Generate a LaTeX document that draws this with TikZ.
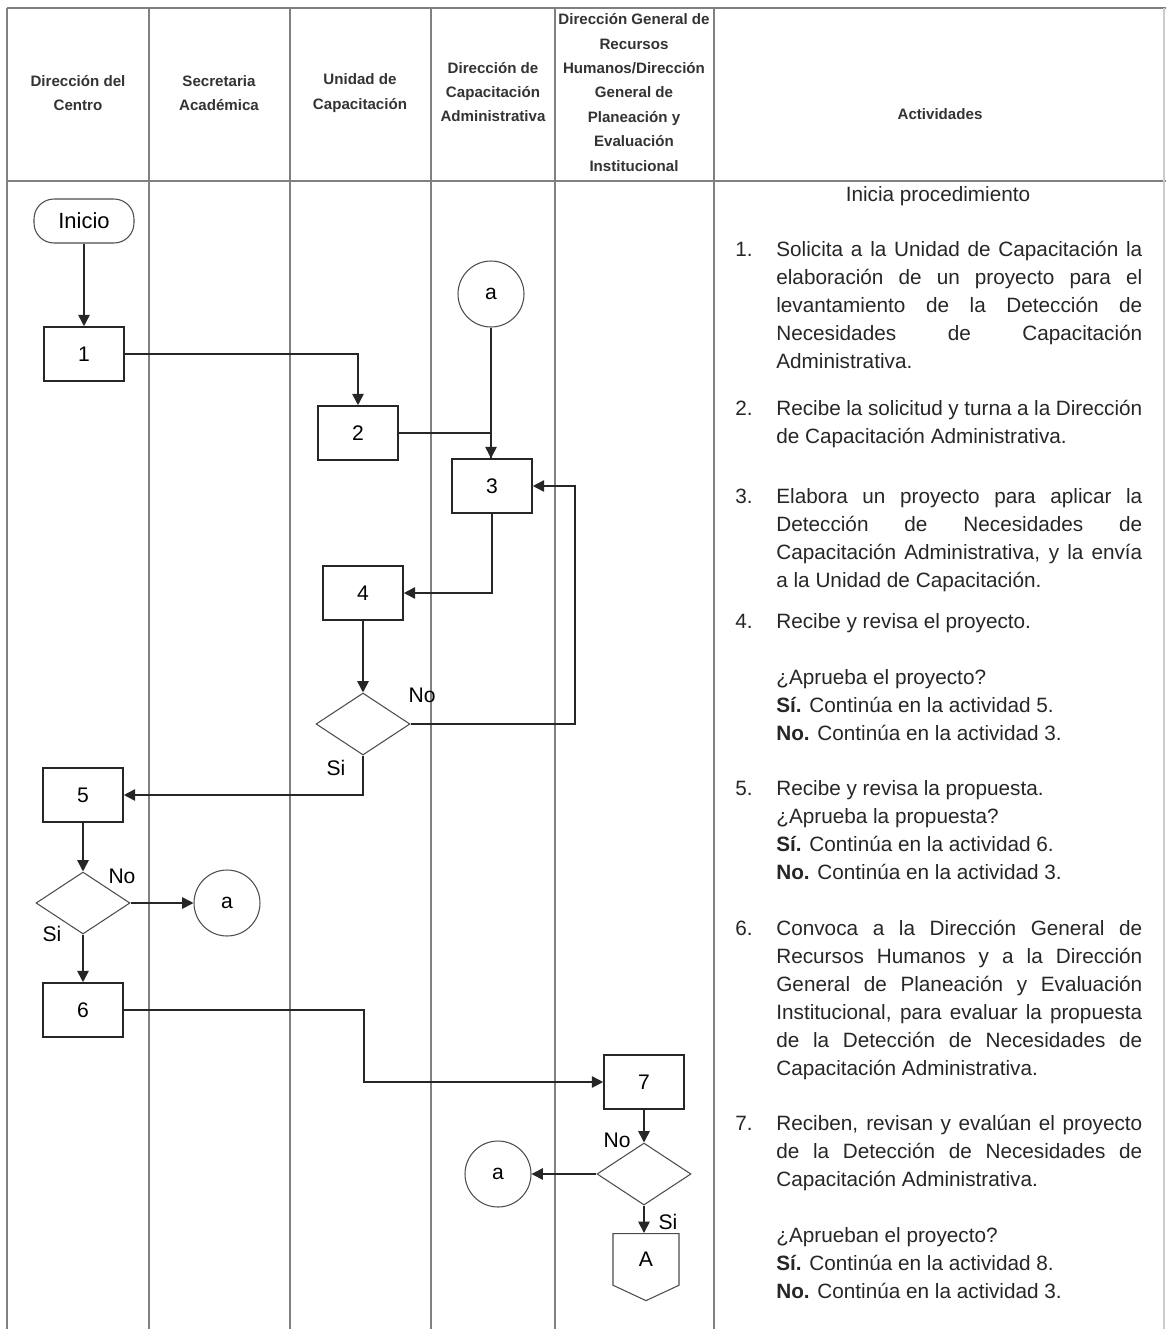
\documentclass[tikz,border=0pt]{standalone}
\usepackage{fontspec}
\setmainfont{Liberation Sans}
\usepackage{tikz}
\usetikzlibrary{calc, arrows.meta, shapes.geometric, shapes.symbols, positioning}

\begin{document}
\begin{tikzpicture}[>={Triangle[length=6.5pt, width=6.5pt]}, x=0.02cm, y=-0.02cm,
    caja/.style={draw=black!85, line width=0.9pt, minimum width=1.6cm, minimum height=1.08cm, inner sep=0pt, font=\fontsize{12}{14}\selectfont},
    inicio/.style={draw=black!70, line width=0.6pt, rounded corners=0.4cm, minimum width=2cm, minimum height=0.88cm, inner sep=0pt, font=\fontsize{12.5}{14}\selectfont},
    decision/.style={diamond, draw=black!70, line width=0.6pt, minimum width=1.88cm, minimum height=1.24cm, inner sep=0pt},
    enlace/.style={circle, draw=black!70, line width=0.6pt, minimum size=1.32cm, inner sep=0pt, font=\fontsize{12}{14}\selectfont},
    pagina/.style={signal, signal to=south, signal pointer angle=130, draw=black!70, line width=0.6pt, minimum width=1.32cm, minimum height=1.1cm, inner sep=0pt, font=\fontsize{12}{14}\selectfont},
    flecha/.style={->, line width=1pt, black!85},
    carril/.style={gray, line width=0.9pt},
    etiqueta/.style={inner sep=0pt, font=\fontsize{12}{14}\selectfont},
    encabezado/.style={align=center, text=black!80, font=\bfseries\fontsize{8.6}{13.9}\selectfont},
    actividad/.style={anchor=base west, text width=7.32cm, align=justify, inner sep=0pt, text=black!85, font=\fontsize{11.8}{15.94}\selectfont},
    numero/.style={anchor=base west, inner sep=0pt, text=black!85, font=\fontsize{11.8}{15.94}\selectfont}]

    \useasboundingbox (0,0) rectangle (1166,1329);

    % =================================================================
    % 1. MARCO Y CARRILES
    % =================================================================
    \draw[carril] (7,8) -- (1166,8);
    \draw[carril] (7,181) -- (1166,181);
    \foreach \x in {7,149,290,431,555,714}
        \draw[carril] (\x,8) -- (\x,1329);
    \draw[gray!40, line width=0.9pt] (1164,8) -- (1164,1329);

    % =================================================================
    % 2. ENCABEZADOS
    % =================================================================
    \node[encabezado] (hCentro) at (78,93) {Dirección del\\Centro};
    \node[encabezado] (hSecretaria) at (219,93) {Secretaria\\Académica};
    \node[encabezado] (hUnidad) at (360,93) {Unidad de\\Capacitación};
    \node[encabezado] (hDca) at (493,92) {Dirección de\\Capacitación\\Administrativa};
    \node[encabezado] (hDgrh) at (634,92.5) {Dirección General de\\Recursos\\Humanos/Dirección\\General de\\Planeación y\\Evaluación\\Institucional};
    \node[encabezado] (hAct) at (940,114) {Actividades};

    % =================================================================
    % 3. NODOS DEL DIAGRAMA
    % =================================================================
    \node[inicio] (ini) at (84,221) {Inicio};
    \node[caja] (b1) at (84,354) {1};
    \node[caja] (b2) at (358,433) {2};
    \node[enlace] (ca1) at (491,294) {a};
    \node[caja] (b3) at (492,486) {3};
    \node[caja] (b4) at (363,593) {4};
    \node[decision] (d1) at (363,724) {};
    \node[caja] (b5) at (83,795) {5};
    \node[decision] (d2) at (83,903) {};
    \node[enlace] (ca2) at (227,903) {a};
    \node[caja] (b6) at (83,1010) {6};
    \node[caja] (b7) at (644,1082) {7};
    \node[decision] (d3) at (644,1174) {};
    \node[enlace] (ca3) at (498,1174) {a};
    \node[pagina, anchor=north] (pA) at (646,1233) {A};

    % =================================================================
    % 4. CONECTORES
    % =================================================================
    \draw[flecha] (ini) -- (b1);
    \draw[flecha] (b1.east) -| (b2.north);
    \draw[flecha] (ca1) -- (b3.north -| ca1.south);
    \draw[line width=1pt, black!85] (b2.east) -| (b3.north -| ca1.south);
    \draw[flecha] (b3.south) |- (b4.east);
    \draw[flecha] (b4) -- (d1);
    \draw[flecha] (d1.east) -| ([xshift=0.84cm]b3.east) -- (b3.east);
    \draw[flecha] (d1.south) |- (b5.east);
    \draw[flecha] (b5) -- (d2);
    \draw[flecha] (d2.east) -- (ca2.west);
    \draw[flecha] (d2) -- (b6);
    \draw[flecha] (b6.east) -- ++(240,0) |- (b7.west);
    \draw[flecha] (b7) -- (d3);
    \draw[flecha] (d3.west) -- (ca3.east);
    \draw[flecha] (d3.south) -- (d3.south |- pA.north);

    % etiquetas de las decisiones
    \node[etiqueta] (no1) at (422,695) {No};
    \node[etiqueta] (si1) at (336,768) {Si};
    \node[etiqueta] (no2) at (122,876) {No};
    \node[etiqueta] (si2) at (52,934) {Si};
    \node[etiqueta] (no3) at (617,1140) {No};
    \node[etiqueta] (si3) at (668,1222) {Si};

    % =================================================================
    % 5. ACTIVIDADES
    % =================================================================
    \node[numero, anchor=base] (tIni) at (938,201) {Inicia procedimiento};

    \node[numero] (n1) at (735,256) {1.};
    \node[actividad] (t1) at (776,256) {Solicita a la Unidad de Capacitación la\linebreak elaboración de un proyecto para el\linebreak levantamiento de la Detección de\linebreak Necesidades de Capacitación\linebreak Administrativa.};

    \node[numero] (n2) at (735,415) {2.};
    \node[actividad] (t2) at (776,415) {Recibe la solicitud y turna a la Dirección\linebreak de Capacitación Administrativa.};

    \node[numero] (n3) at (735,503) {3.};
    \node[actividad] (t3) at (776,503) {Elabora un proyecto para aplicar la\linebreak Detección de Necesidades de\linebreak Capacitación Administrativa, y la envía\linebreak a la Unidad de Capacitación.};

    \node[numero] (n4) at (735,628) {4.};
    \node[actividad] (t4) at (776,628) {Recibe y revisa el proyecto.\\[15.94pt]
        ¿Aprueba el proyecto?\\
        \textbf{Sí.} Continúa en la actividad 5.\\
        \textbf{No.} Continúa en la actividad 3.};

    \node[numero] (n5) at (735,795) {5.};
    \node[actividad] (t5) at (776,795) {Recibe y revisa la propuesta.\\
        ¿Aprueba la propuesta?\\
        \textbf{Sí.} Continúa en la actividad 6.\\
        \textbf{No.} Continúa en la actividad 3.};

    \node[numero] (n6) at (735,935) {6.};
    \node[actividad] (t6) at (776,935) {Convoca a la Dirección General de\linebreak Recursos Humanos y a la Dirección\linebreak General de Planeación y Evaluación\linebreak Institucional, para evaluar la propuesta\linebreak de la Detección de Necesidades de\linebreak Capacitación Administrativa.};

    \node[numero] (n7) at (735,1130) {7.};
    \node[actividad] (t7) at (776,1130) {Reciben, revisan y evalúan el proyecto\linebreak de la Detección de Necesidades de\linebreak Capacitación Administrativa.\\[15.94pt]
        ¿Aprueban el proyecto?\\
        \textbf{Sí.} Continúa en la actividad 8.\\
        \textbf{No.} Continúa en la actividad 3.};

\end{tikzpicture}
\end{document}
